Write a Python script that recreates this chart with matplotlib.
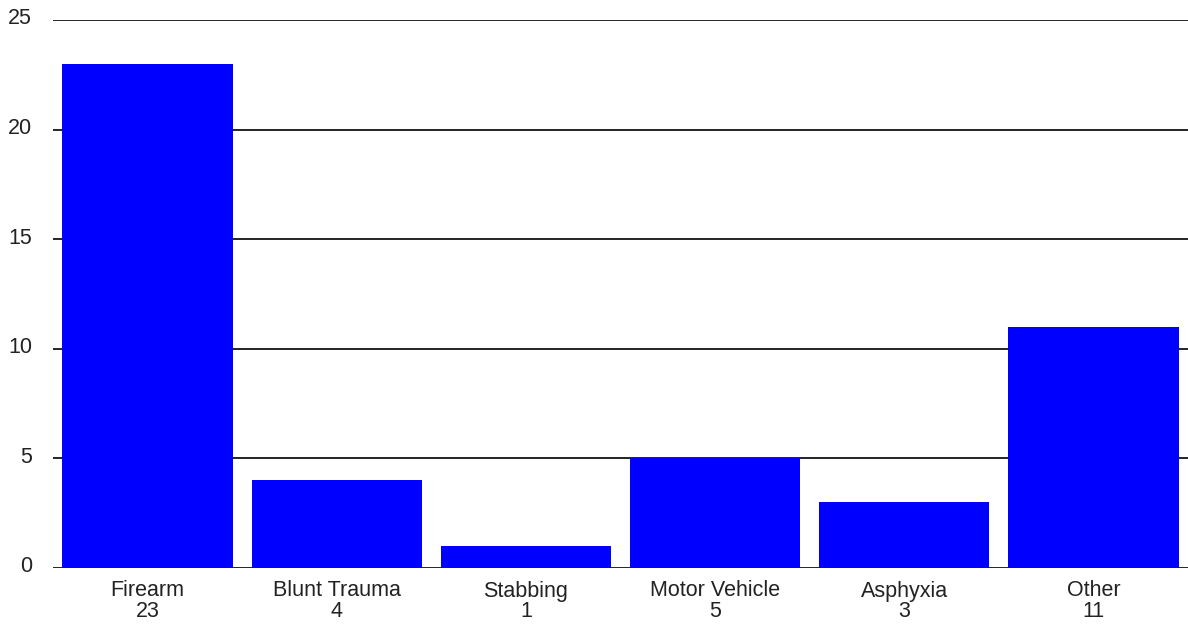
import matplotlib
matplotlib.use('Agg')
import matplotlib.pyplot as plt
import matplotlib.transforms as mtransforms
import numpy as np

categories = ['Firearm', 'Blunt Trauma', 'Stabbing', 'Motor Vehicle', 'Asphyxia', 'Other']
counts = [23, 4, 1, 5, 3, 11]
yticks = [0, 5, 10, 15, 20, 25]

plt.rcParams['font.family'] = ['Liberation Sans', 'DejaVu Sans']

fig = plt.figure(figsize=(11.88, 6.25), dpi=100)
ax = fig.add_axes([53/1188, 1-568/625, 1-53/1188, (568-20)/625])

x = np.arange(len(categories))
ax.bar(x, counts, width=0.9, color='#0000ff', zorder=3)

for y in yticks:
    ax.axhline(y, color='black', linewidth=1.2, zorder=1)

ax.set_xlim(-0.5, len(categories) - 0.5)
ax.set_ylim(0, 25)
ax.set_yticks(yticks)
ax.set_yticklabels([str(v) for v in yticks], fontsize=15.5, color='#222222')
ax.set_xticks(x)
ax.set_xticklabels([c + '\n' + str(n) for c, n in zip(categories, counts)],
                   fontsize=15.5, color='#222222', linespacing=0.95)
ax.tick_params(axis='y', length=0, pad=15)
ax.tick_params(axis='x', length=0, pad=9)
for s in ax.spines.values():
    s.set_visible(False)

# y labels sit a little above their gridlines
shift = mtransforms.ScaledTranslation(0, 3.5/100, fig.dpi_scale_trans)
for lab in ax.get_yticklabels():
    lab.set_transform(lab.get_transform() + shift)

fig.savefig('out.png', dpi=100)
